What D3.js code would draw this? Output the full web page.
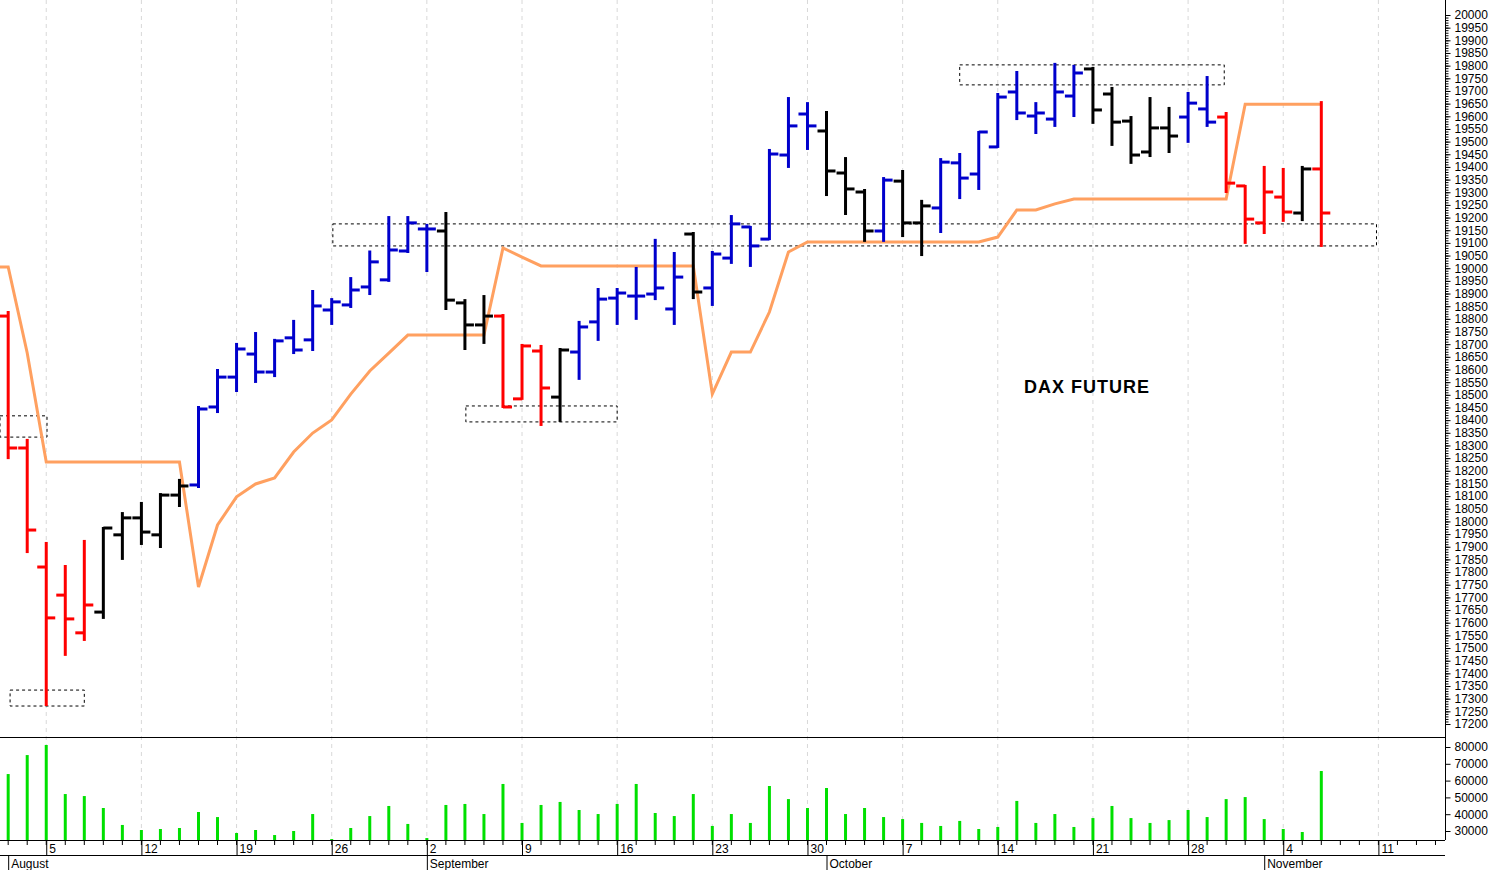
<!DOCTYPE html>
<html><head><meta charset="utf-8">
<script src="https://cdn.jsdelivr.net/npm/d3@7"></script>
<style>body{margin:0;background:#fff}svg{display:block}text{font-family:Arial,"Liberation Sans",sans-serif}</style>
</head><body><svg id="c" width="1493" height="870"></svg>
<script>
const opens  = [18811,18290,17820,17709,17560,17642,17947,18014,17947,18104,18144,18452,18570,18661,18590,18725,18717,18835,18855,18926,18954,19068,19155,19147,18863,18776,18811,18484,18673,18491,18669,18788,18882,18890,18898,18839,19135,18922,19040,19163,19115,19447,19609,19542,19376,19301,19147,19344,19179,19238,19416,19372,19479,19696,19601,19589,19680,19787,19688,19581,19459,19554,19597,19629,19597,19325,19179,19281,19218,19392];
const highs  = [18827,18322,17915,17824,17923,17974,18033,18073,18108,18164,18452,18598,18701,18744,18717,18792,18910,18878,18961,19066,19202,19202,19171,19218,18874,18890,18815,18697,18693,18681,18788,18918,18918,19001,19112,19060,19139,19064,19206,19163,19467,19672,19652,19617,19435,19309,19356,19384,19266,19431,19451,19538,19688,19775,19652,19807,19799,19791,19712,19597,19672,19633,19692,19755,19613,19325,19400,19392,19400,19656];
const lows   = [18250,17879,17275,17473,17532,17619,17852,17911,17899,18061,18136,18432,18515,18551,18574,18665,18677,18780,18847,18898,18950,19064,18989,18839,18681,18705,18452,18484,18381,18397,18563,18717,18780,18800,18878,18780,18882,18855,19021,19009,19115,19400,19471,19289,19214,19108,19108,19127,19052,19143,19277,19313,19479,19589,19534,19562,19601,19574,19487,19416,19443,19459,19499,19562,19301,19100,19139,19187,19190,19088];
const closes = [18290,17966,17619,17615,17670,17974,18014,17958,18104,18140,18444,18570,18681,18590,18713,18677,18851,18867,18914,19025,19072,19179,19155,18874,18776,18811,18452,18693,18527,18677,18768,18878,18902,18890,18922,18965,18906,19056,19175,19088,19451,19562,19562,19384,19313,19147,19348,19179,19246,19419,19356,19538,19676,19613,19613,19696,19771,19625,19577,19447,19554,19522,19652,19577,19336,19194,19301,19222,19392,19218];
// trend state: 1 up (blue), 0 neutral (black), -1 down (red)
const trend  = [-1,-1,-1,-1,-1,0,0,0,0,0,1,1,1,1,1,1,1,1,1,1,1,1,1,0,0,0,-1,-1,-1,0,1,1,1,1,1,1,0,1,1,1,1,1,1,0,0,0,1,0,0,1,1,1,1,1,1,1,1,0,0,0,0,0,1,1,-1,-1,-1,-1,0,-1];
const stopPrev = 19005; // value carried in from the previous session
const stopLine = [19005,18665,18235,18235,18235,18235,18235,18235,18235,18235,17741,17986,18097,18148,18172,18274,18349,18401,18503,18594,18665,18736,18736,18736,18736,18736,19080,19044,19009,19009,19009,19009,19009,19009,19009,19009,19009,18503,18669,18669,18827,19064,19104,19104,19104,19104,19104,19104,19104,19104,19104,19104,19123,19230,19230,19254,19273,19273,19273,19273,19273,19273,19273,19273,19273,19648,19648,19648,19648,19648];
const volumes = [63900,75200,81200,52000,50800,43700,33600,30600,31200,31800,41300,38300,28800,30600,27600,30000,40100,25200,31800,38900,44900,34200,25800,45500,46100,40100,58000,34800,45500,47300,42500,40100,46100,58000,40700,38900,52000,33000,40100,34800,56800,49000,43700,55600,40100,43700,38300,37100,34800,33000,36000,31200,32400,47900,34800,40100,32400,37700,44900,37700,34800,36500,42500,38300,49000,50200,37100,31200,29400,65700];
const zoneStart = [17.06, 50.0, 24.05, 0.1, -0.43];
const zoneEnd   = [71.9, 63.9, 32.0, 4.0, 2.04];
const zoneTop   = [19175, 19803, 18456, 17334, 18417];
const zoneBot   = [19088, 19724, 18393, 17271, 18333];
const mondayIdx = [2,7,12,17,22,27,32,37,42,47,52,57,62,67,72];
const mondayLbl = ["5","12","19","26","2","9","16","23","30","7","14","21","28","4","11"];
const monthIdx = [0,22,43,66];
const monthLbl = ["August","September","October","November"];
const priceTicks = d3.range(17200, 20001, 50);
const volTicks = [30000,40000,50000,60000,70000,80000];

const svg = d3.select("#c");
const W = 1445;
const x = d3.scaleLinear().domain([-0.43, 75.5]).range([0, W]);
const y = d3.scaleLinear().domain([17200, 20000]).range([724, 15]);
const yv = d3.scaleLinear().domain([30000, 80000]).range([831, 747]);
const col = t => t > 0 ? "#0000cc" : t < 0 ? "#ff0000" : "#000000";

svg.append("g").selectAll("line").data(mondayIdx).join("line")
  .attr("x1", d => x(d)).attr("x2", d => x(d)).attr("y1", 0).attr("y2", 840)
  .attr("stroke", "#d8d8d8").attr("stroke-dasharray", "4,4");

svg.append("g").selectAll("rect").data(zoneStart.map((s, i) => i)).join("rect")
  .attr("x", i => x(zoneStart[i])).attr("width", i => x(zoneEnd[i]) - x(zoneStart[i]))
  .attr("y", i => y(zoneTop[i])).attr("height", i => y(zoneBot[i]) - y(zoneTop[i]))
  .attr("fill", "none").attr("stroke", "#000").attr("stroke-width", 1).attr("stroke-dasharray", "3,3");

const stopPts = [[-0.43, stopPrev]].concat(stopLine.map((v, i) => [i, v]));
svg.append("path").datum(stopPts)
  .attr("d", d3.line().x(d => x(d[0])).y(d => y(d[1])))
  .attr("fill", "none").attr("stroke", "#ffa060").attr("stroke-width", 3);

const bars = svg.append("g").selectAll("g").data(opens.map((o, i) => i)).join("g")
  .attr("stroke", i => col(trend[i])).attr("stroke-width", 3);
bars.append("line").attr("x1", i => x(i)).attr("x2", i => x(i)).attr("y1", i => y(highs[i]) - 1).attr("y2", i => y(lows[i]) + 1);
bars.append("line").attr("x1", i => x(i) - 9).attr("x2", i => x(i)).attr("y1", i => y(opens[i])).attr("y2", i => y(opens[i]));
bars.append("line").attr("x1", i => x(i)).attr("x2", i => x(i) + 9).attr("y1", i => y(closes[i])).attr("y2", i => y(closes[i]));

svg.append("text").attr("x", 1087).attr("y", 393).attr("text-anchor", "middle")
  .attr("font-size", 18).attr("font-weight", "bold").attr("letter-spacing", 1).text("DAX FUTURE");

svg.append("g").selectAll("line").data(volumes).join("line")
  .attr("x1", (d, i) => x(i)).attr("x2", (d, i) => x(i)).attr("y1", 840).attr("y2", d => yv(d))
  .attr("stroke", "#00e000").attr("stroke-width", 3);

svg.append("line").attr("x1", 0).attr("x2", W).attr("y1", 737.5).attr("y2", 737.5).attr("stroke", "#000");
svg.append("line").attr("x1", W + 0.5).attr("x2", W + 0.5).attr("y1", 0).attr("y2", 840).attr("stroke", "#000");

const pa = svg.append("g").attr("transform", `translate(${W + 0.5},0)`)
  .call(d3.axisRight(y).tickValues(priceTicks).tickSize(5).tickFormat(d3.format("d")));
pa.select(".domain").remove();
pa.selectAll("text").attr("font-size", 12).attr("x", 9).attr("fill", "#000");
svg.append("g").attr("transform", `translate(${W + 0.5},0)`)
  .call(d3.axisRight(y).tickValues(d3.range(17200, 20001, 10)).tickSize(3).tickFormat(""))
  .select(".domain").remove();

const va = svg.append("g").attr("transform", `translate(${W + 0.5},0)`)
  .call(d3.axisRight(yv).tickValues(volTicks).tickSize(5).tickFormat(d3.format("d")));
va.select(".domain").remove();
va.selectAll("text").attr("font-size", 12).attr("x", 9).attr("fill", "#000");

svg.append("line").attr("x1", 0).attr("x2", W).attr("y1", 840.5).attr("y2", 840.5).attr("stroke", "#000");
svg.append("line").attr("x1", 0).attr("x2", W).attr("y1", 855.5).attr("y2", 855.5).attr("stroke", "#000");
svg.append("g").selectAll("line").data(d3.range(0, 76)).join("line")
  .attr("x1", d => x(d)).attr("x2", d => x(d)).attr("y1", 840).attr("y2", 845).attr("stroke", "#000");
const mg = svg.append("g").selectAll("g").data(mondayIdx.map((d, i) => i)).join("g");
mg.append("line").attr("x1", i => x(mondayIdx[i]) + 0.5).attr("x2", i => x(mondayIdx[i]) + 0.5)
  .attr("y1", 840).attr("y2", 855).attr("stroke", "#000");
mg.append("text").attr("x", i => x(mondayIdx[i]) + 3).attr("y", 853).attr("font-size", 12).text(i => mondayLbl[i]);
const mo = svg.append("g").selectAll("g").data(monthIdx.map((d, i) => i)).join("g");
mo.append("line").attr("x1", i => x(monthIdx[i]) + 0.5).attr("x2", i => x(monthIdx[i]) + 0.5)
  .attr("y1", 855).attr("y2", 870).attr("stroke", "#000");
mo.append("text").attr("x", i => x(monthIdx[i]) + 3).attr("y", 868).attr("font-size", 12).text(i => monthLbl[i]);
</script></body></html>
